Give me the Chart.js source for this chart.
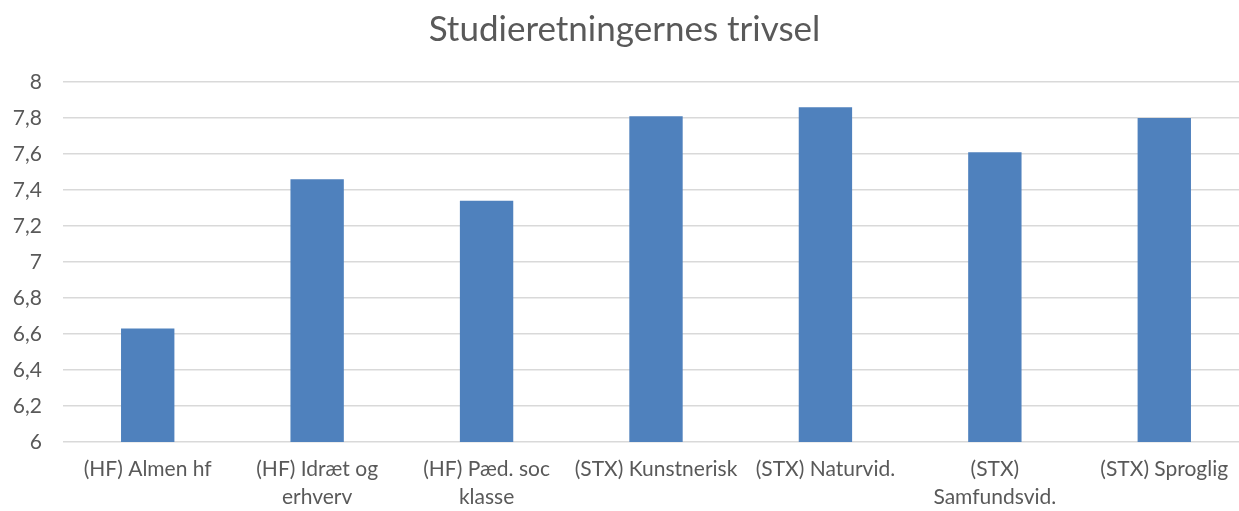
<!DOCTYPE html>
<html>
<head>
<meta charset="utf-8">
<script src="https://cdn.jsdelivr.net/npm/chart.js@4/dist/chart.umd.min.js"></script>
<style>
  html, body { margin: 0; padding: 0; background: #fff; overflow: hidden; }
  #wrap { width: 1250px; height: 511px; }
</style>
</head>
<body>
<div id="wrap"><canvas id="chart" width="1250" height="511"></canvas></div>
<script>
const chartTitle = "Studieretningernes trivsel";
const categories = [
    ["(HF) Almen hf"],
    ["(HF) Idræt og", "erhverv"],
    ["(HF) Pæd. soc", "klasse"],
    ["(STX) Kunstnerisk"],
    ["(STX) Naturvid."],
    ["(STX)", "Samfundsvid."],
    ["(STX) Sproglig"]
];
const trivsel = [6.63, 7.46, 7.34, 7.81, 7.86, 7.61, 7.80];
const yMin = 6;
const yMax = 8;
const yStep = 0.2;

const textColor = "#595959";
const fontFamily = "Lato, 'Open Sans', sans-serif";

const ctx = document.getElementById("chart").getContext("2d");

new Chart(ctx, {
    type: "bar",
    data: {
        labels: categories,
        datasets: [{
            label: chartTitle,
            data: trivsel,
            backgroundColor: "#4f81bd",
            borderWidth: 0,
            categoryPercentage: 1,
            barPercentage: 0.315
        }]
    },
    options: {
        responsive: false,
        animation: false,
        layout: { padding: { left: 0, right: 1, top: 0, bottom: 0 } },
        plugins: {
            legend: { display: false },
            tooltip: { enabled: false },
            title: {
                display: true,
                text: chartTitle,
                color: textColor,
                font: { family: fontFamily, size: 35, weight: "normal" },
                padding: { top: 9, bottom: 31 }
            }
        },
        scales: {
            x: {
                grid: { display: false },
                border: { display: false },
                ticks: {
                    color: textColor,
                    font: { family: fontFamily, size: 21, lineHeight: 1.3 },
                    maxRotation: 0,
                    autoSkip: false,
                    padding: 6
                },
                afterFit: axis => { axis.height = 69; }
            },
            y: {
                min: yMin,
                max: yMax,
                grid: { color: "#d9d9d9", lineWidth: 1.5, drawTicks: false },
                border: { display: false },
                ticks: {
                    stepSize: yStep,
                    color: textColor,
                    font: { family: fontFamily, size: 21 },
                    padding: 21,
                    callback: v => (Math.round(v * 10) / 10).toString().replace(".", ",")
                },
                afterFit: axis => { axis.width = 63; }
            }
        }
    }
});
</script>
</body>
</html>
